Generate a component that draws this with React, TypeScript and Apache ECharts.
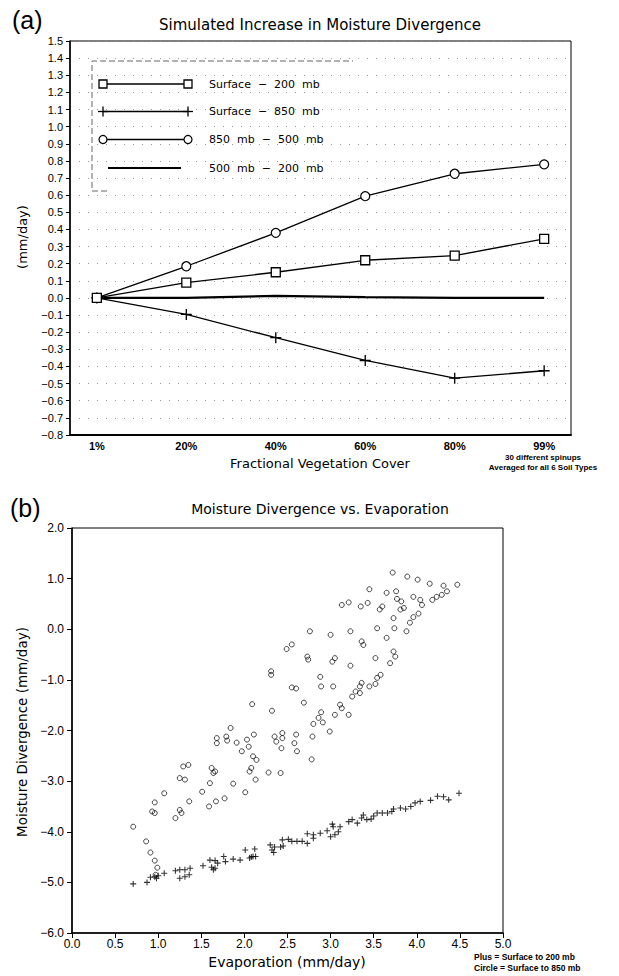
import React, { useEffect, useRef } from "react";
import * as echarts from "echarts";

// ---------- Panel (a) data ----------
const coverLabels = ["1%", "20%", "40%", "60%", "80%", "99%"];
const surf200 = [0.0, 0.09, 0.15, 0.22, 0.247, 0.345];
const surf850 = [0.0, -0.096, -0.232, -0.365, -0.468, -0.425];
const mb850to500 = [0.0, 0.185, 0.38, 0.594, 0.725, 0.78];
const mb500to200 = [0.0, 0.0, 0.012, 0.005, 0.0, 0.0];
const legendNames = ["Surface  \u2212  200  mb", "Surface  \u2212  850  mb", "850  mb  \u2212  500  mb", "500  mb  \u2212  200  mb"];

// ---------- Panel (b) data ----------
const plusEvap = [0.71, 0.87, 0.91, 0.96, 1.0, 0.98, 1.07, 1.2, 1.25, 1.31, 1.37, 1.25, 1.31, 1.36, 1.52, 1.6, 1.66, 1.69, 1.66, 1.64, 1.62, 1.76, 1.78, 1.87, 1.95, 2.01, 2.06, 2.1, 2.13, 2.12, 2.08, 2.3, 2.32, 2.34, 2.42, 2.45, 2.44, 2.35, 2.51, 2.55, 2.61, 2.67, 2.73, 2.73, 2.8, 2.8, 2.88, 2.96, 3.0, 3.02, 3.03, 3.09, 3.11, 3.05, 3.21, 3.25, 3.31, 3.36, 3.38, 3.42, 3.47, 3.5, 3.54, 3.6, 3.66, 3.71, 3.73, 3.81, 3.87, 3.93, 3.98, 4.04, 4.16, 4.24, 4.31, 4.37, 4.49];
const plusDiv = [-5.03, -5.0, -4.9, -4.89, -4.87, -4.92, -4.82, -4.77, -4.75, -4.75, -4.72, -4.92, -4.89, -4.85, -4.67, -4.56, -4.57, -4.62, -4.72, -4.75, -4.7, -4.49, -4.59, -4.54, -4.56, -4.36, -4.52, -4.49, -4.49, -4.34, -4.5, -4.26, -4.36, -4.41, -4.3, -4.28, -4.16, -4.3, -4.15, -4.19, -4.19, -4.19, -4.23, -4.04, -4.06, -4.13, -4.03, -3.98, -4.1, -3.85, -3.9, -4.0, -3.9, -4.06, -3.8, -3.76, -3.83, -3.73, -3.67, -3.76, -3.75, -3.69, -3.63, -3.63, -3.63, -3.6, -3.55, -3.53, -3.55, -3.5, -3.43, -3.4, -3.38, -3.3, -3.31, -3.37, -3.24];
const circleEvap = [3.72, 3.89, 4.01, 4.15, 4.31, 4.47, 4.35, 4.29, 4.23, 4.18, 4.04, 3.96, 4.06, 3.77, 3.82, 3.76, 3.65, 3.45, 3.81, 3.85, 4.02, 3.96, 3.92, 3.88, 3.73, 3.74, 3.65, 3.54, 3.57, 3.6, 3.35, 3.43, 3.13, 3.21, 3.23, 3.0, 2.76, 3.36, 3.38, 3.52, 3.73, 3.75, 3.69, 3.58, 3.54, 3.52, 3.45, 3.36, 3.34, 3.29, 3.34, 3.25, 3.11, 3.13, 3.05, 3.21, 3.03, 3.05, 3.02, 3.23, 2.88, 2.89, 2.73, 2.74, 2.49, 2.55, 2.55, 2.6, 2.69, 2.89, 2.86, 2.91, 2.8, 2.99, 2.79, 2.78, 2.31, 2.31, 2.09, 2.32, 1.68, 1.68, 1.79, 1.8, 1.84, 1.91, 1.97, 2.03, 2.05, 2.11, 2.1, 2.14, 2.06, 2.08, 2.13, 2.28, 2.42, 2.35, 2.44, 2.44, 2.37, 2.43, 2.6, 2.58, 2.61, 1.29, 1.35, 1.25, 1.31, 1.62, 1.64, 1.66, 1.6, 1.51, 1.87, 2.01, 1.07, 1.36, 0.96, 0.93, 0.96, 1.59, 1.67, 1.77, 1.25, 1.27, 1.2, 0.71, 0.86, 0.91, 0.96, 0.99, 0.97];
const circleDiv = [1.12, 1.04, 0.98, 0.9, 0.86, 0.88, 0.75, 0.68, 0.64, 0.58, 0.58, 0.64, 0.48, 0.6, 0.55, 0.75, 0.72, 0.79, 0.39, 0.42, 0.31, 0.24, 0.13, -0.04, 0.22, 0.02, -0.17, 0.02, 0.39, 0.45, 0.45, 0.52, 0.48, 0.53, -0.04, -0.11, -0.04, -0.24, -0.31, -0.57, -0.44, -0.54, -0.67, -0.9, -0.96, -1.08, -1.13, -1.06, -1.13, -1.23, -1.26, -1.33, -1.49, -1.56, -1.69, -1.69, -1.13, -0.57, -0.64, -0.72, -0.94, -1.13, -0.54, -0.6, -0.39, -0.3, -1.15, -1.17, -1.45, -1.64, -1.75, -1.84, -1.87, -2.02, -2.12, -2.57, -0.83, -0.9, -1.48, -1.61, -2.15, -2.25, -2.12, -2.2, -1.95, -2.24, -2.41, -2.18, -2.32, -2.08, -2.51, -2.58, -2.81, -2.74, -2.97, -2.83, -2.84, -2.12, -2.05, -2.15, -2.22, -2.35, -2.08, -2.25, -2.41, -2.71, -2.68, -2.94, -2.97, -2.74, -2.84, -2.81, -3.04, -3.21, -3.05, -3.22, -3.24, -3.4, -3.42, -3.6, -3.63, -3.5, -3.4, -3.34, -3.57, -3.63, -3.73, -3.9, -4.19, -4.41, -4.57, -4.71, -4.85];

const PLUS_A = "path://M-0.6,-5H0.6V-0.6H5V0.6H0.6V5H-0.6V0.6H-5V-0.6H-0.6Z";
const PLUS_B = "path://M-0.9,-5H0.9V-0.9H5V0.9H0.9V5H-0.9V0.9H-5V-0.9H-0.9Z";

const fmtMinus = (s: string) => s.replace("-", "\u2212");

export default function App() {
  const ref = useRef<HTMLDivElement>(null);
  useEffect(() => {
    if (!ref.current) return;
    const chart = echarts.init(ref.current, undefined, { renderer: "svg" });
    const idx = coverLabels.map((_, i) => i);
    const pairs = (arr: number[]) => arr.map((v, i) => [idx[i], v]);
    const zip = (xs: number[], ys: number[]) => xs.map((x, i) => [x, ys[i]]);
    const tickFont = { fontFamily: "Liberation Sans", color: "#000" };

    const legendRows = [84, 111.5, 139.5, 168];
    const legendGraphics: any[] = [];
    legendRows.forEach((y, i) => {
      if (i === 3) {
        legendGraphics.push({ type: "line", shape: { x1: 108, y1: y, x2: 181, y2: y }, style: { stroke: "#000", lineWidth: 2.2 } });
      } else {
        legendGraphics.push({ type: "line", shape: { x1: 103, y1: y, x2: 188, y2: y }, style: { stroke: "#000", lineWidth: 1.3 } });
        [103, 188].forEach((cx) => {
          if (i === 0) legendGraphics.push({ type: "rect", shape: { x: cx - 4, y: y - 4, width: 8, height: 8 }, style: { fill: "#fff", stroke: "#000", lineWidth: 1.3 }, z: 10 });
          if (i === 1) {
            legendGraphics.push({ type: "line", shape: { x1: cx - 5, y1: y, x2: cx + 5, y2: y }, style: { stroke: "#000", lineWidth: 1.3 }, z: 10 });
            legendGraphics.push({ type: "line", shape: { x1: cx, y1: y - 5, x2: cx, y2: y + 5 }, style: { stroke: "#000", lineWidth: 1.3 }, z: 10 });
          }
          if (i === 2) legendGraphics.push({ type: "circle", shape: { cx, cy: y, r: 4 }, style: { fill: "#fff", stroke: "#000", lineWidth: 1.2 }, z: 10 });
        });
      }
      legendGraphics.push({ type: "text", x: 209, y, style: { text: legendNames[i], fontFamily: "DejaVu Sans", fontSize: 11, fill: "#000", verticalAlign: "middle" } });
    });

    const option: any = {
      animation: false,
      backgroundColor: "#fff",
      grid: [
        { left: 70, top: 41, width: 501, height: 394, show: true, borderColor: "#000", borderWidth: 1 },
        { left: 72, top: 528, width: 431, height: 405, show: true, borderColor: "#000", borderWidth: 1 },
      ],
      xAxis: [
        {
          type: "value", gridIndex: 0, min: -0.3, max: 5.3,
          axisLine: { show: true, onZero: false, lineStyle: { color: "#000", width: 2 } },
          axisTick: { show: false, customValues: idx },
          axisLabel: { customValues: idx, formatter: (v: number) => coverLabels[Math.round(v)] ?? "", margin: 5, fontSize: 11, fontWeight: "bold", ...tickFont },
          splitLine: { show: false },
        },
        {
          type: "value", gridIndex: 1, min: 0, max: 5, interval: 0.5,
          axisLine: { show: true, onZero: false, lineStyle: { color: "#000", width: 1.5 } },
          axisTick: { show: true, length: 5, lineStyle: { color: "#000" } },
          axisLabel: { formatter: (v: number) => v.toFixed(1), margin: 5, fontSize: 12, ...tickFont },
          splitLine: { show: false },
        },
      ],
      yAxis: [
        {
          type: "value", gridIndex: 0, min: -0.8, max: 1.5, interval: 0.1,
          axisLine: { show: true, onZero: false, lineStyle: { color: "#000", width: 1.5 } },
          axisTick: { show: true, length: 4, lineStyle: { color: "#000" } },
          axisLabel: { formatter: (v: number) => fmtMinus((Math.round(v * 10) / 10).toFixed(1)), margin: 7, fontSize: 11, ...tickFont },
          splitLine: { show: true, lineStyle: { color: "#999", type: [1, 8], width: 1 } },
        },
        {
          type: "value", gridIndex: 1, min: -6, max: 2, interval: 1,
          axisLine: { show: true, onZero: false, lineStyle: { color: "#000", width: 1.5 } },
          axisTick: { show: true, length: 5, lineStyle: { color: "#000" } },
          axisLabel: { formatter: (v: number) => fmtMinus(v.toFixed(1)), margin: 8, fontSize: 12, ...tickFont },
          splitLine: { show: false },
        },
      ],
      series: [
        { name: "500 mb - 200 mb", type: "line", xAxisIndex: 0, yAxisIndex: 0, data: pairs(mb500to200), showSymbol: false, symbol: "none", lineStyle: { color: "#000", width: 2.2 } },
        { name: "Surface - 850 mb", type: "line", xAxisIndex: 0, yAxisIndex: 0, data: pairs(surf850), symbol: PLUS_A, symbolSize: 11, itemStyle: { color: "#000" }, lineStyle: { color: "#000", width: 1.3 } },
        { name: "850 mb - 500 mb", type: "line", xAxisIndex: 0, yAxisIndex: 0, data: pairs(mb850to500), symbol: "circle", symbolSize: 9, itemStyle: { color: "#fff", borderColor: "#000", borderWidth: 1.2 }, lineStyle: { color: "#000", width: 1.3 } },
        { name: "Surface - 200 mb", type: "line", xAxisIndex: 0, yAxisIndex: 0, data: pairs(surf200), symbol: "rect", symbolSize: 9, itemStyle: { color: "#fff", borderColor: "#000", borderWidth: 1.3 }, lineStyle: { color: "#000", width: 1.3 } },
        { name: "Circle", type: "scatter", xAxisIndex: 1, yAxisIndex: 1, data: zip(circleEvap, circleDiv), symbol: "circle", symbolSize: 5, itemStyle: { color: "rgba(0,0,0,0)", borderColor: "#000", borderWidth: 0.9 } },
        { name: "Plus", type: "scatter", xAxisIndex: 1, yAxisIndex: 1, data: zip(plusEvap, plusDiv), symbol: PLUS_B, symbolSize: 6, itemStyle: { color: "#000" } },
      ],
      graphic: [
        { type: "text", x: 12, y: 20, style: { text: "(a)", fontFamily: "Liberation Sans", fontSize: 25, fill: "#000", verticalAlign: "middle" } },
        { type: "text", x: 320, y: 25, style: { text: "Simulated Increase in Moisture Divergence", fontFamily: "DejaVu Sans", fontSize: 15, fill: "#000", align: "center", verticalAlign: "middle" } },
        { type: "text", x: 22, y: 237, rotation: Math.PI / 2, style: { text: "(mm/day)", fontFamily: "DejaVu Sans", fontSize: 13, fill: "#000", align: "center", verticalAlign: "middle" } },
        { type: "text", x: 320, y: 463, style: { text: "Fractional Vegetation Cover", fontFamily: "DejaVu Sans", fontSize: 13, fill: "#000", align: "center", verticalAlign: "middle" } },
        { type: "text", x: 543, y: 457, style: { text: "30 different spinups", fontFamily: "Liberation Sans", fontSize: 8, fontWeight: "bold", fill: "#000", align: "center", verticalAlign: "middle" } },
        { type: "text", x: 543, y: 467, style: { text: "Averaged for all 6 Soil Types", fontFamily: "Liberation Sans", fontSize: 8, fontWeight: "bold", fill: "#000", align: "center", verticalAlign: "middle" } },
        { type: "polyline", shape: { points: [[107, 191], [92, 191], [92, 61], [353, 61]] }, style: { stroke: "#666", lineWidth: 1, lineDash: [6, 3], fill: null } },
        ...legendGraphics,
        { type: "text", x: 10, y: 508, style: { text: "(b)", fontFamily: "Liberation Sans", fontSize: 25, fill: "#000", verticalAlign: "middle" } },
        { type: "text", x: 320, y: 509, style: { text: "Moisture Divergence vs. Evaporation", fontFamily: "DejaVu Sans", fontSize: 14, fill: "#000", align: "center", verticalAlign: "middle" } },
        { type: "text", x: 22, y: 732, rotation: Math.PI / 2, style: { text: "Moisture Divergence (mm/day)", fontFamily: "DejaVu Sans", fontSize: 13.5, fill: "#000", align: "center", verticalAlign: "middle" } },
        { type: "text", x: 287, y: 962, style: { text: "Evaporation (mm/day)", fontFamily: "DejaVu Sans", fontSize: 14, fill: "#000", align: "center", verticalAlign: "middle" } },
        { type: "text", x: 474, y: 957, style: { text: "Plus = Surface to 200 mb", fontFamily: "Liberation Sans", fontSize: 8.5, fontWeight: "bold", fill: "#000", verticalAlign: "middle" } },
        { type: "text", x: 474, y: 968, style: { text: "Circle = Surface to 850 mb", fontFamily: "Liberation Sans", fontSize: 8.5, fontWeight: "bold", fill: "#000", verticalAlign: "middle" } },
      ],
    };
    chart.setOption(option);
    return () => chart.dispose();
  }, []);
  return <div ref={ref} style={{ position: "absolute", left: 0, top: 0, width: 619, height: 976 }} />;
}
